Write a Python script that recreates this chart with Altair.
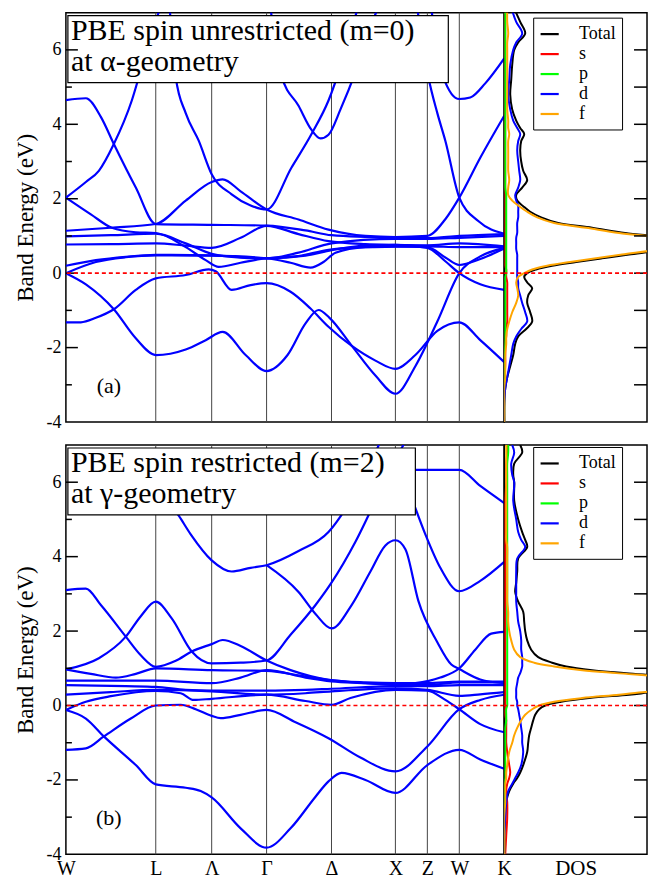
import altair as alt
import pandas as pd

FONT = "Liberation Serif"

# ---------------- high-symmetry path ----------------
kpt_pos = [0, 90, 146, 201, 266, 330, 362, 394, 439]
kpt_lab = ["W", "L", "Λ", "Γ", "Δ", "X", "Z", "W", "K"]

# ---------------- panel (a) bands: (k, E) ----------------
a1 = [(0,0.0),(20,-0.3),(48,-0.97),(70,-1.75),(90,-2.2),(120,-2.05),(140,-1.8),(157,-1.58),(180,-2.2),(201,-2.63),(222,-2.2),(240,-1.35),(253,-0.99),(264,-1.2),(286,-1.94),(310,-2.75),(330,-3.24),(350,-2.5),(372,-1.3),(394,0.0),(415,0.45),(439,0.68)]
a2 = [(0,-1.32),(15,-1.32),(30,-1.2),(48,-0.97),(70,-0.45),(90,-0.14),(120,-0.05),(143,0.1),(150,0.05),(166,-0.45),(185,-0.32),(201,-0.27),(225,-0.5),(245,-0.95),(263,-1.44),(286,-1.95),(310,-2.35),(330,-2.57),(350,-2.2),(372,-1.55),(394,-1.32),(415,-1.8),(439,-2.39)]
a3 = [(0,0.0),(30,0.3),(60,0.43),(90,0.48),(146,0.47),(201,0.40),(225,0.28),(245,0.15),(258,0.3),(270,0.55),(300,0.70),(330,0.72),(362,0.70),(380,0.42),(394,0.22),(415,0.38),(439,0.66)]
a4 = [(0,0.20),(30,0.35),(60,0.44),(90,0.49),(146,0.48),(201,0.40),(240,0.47),(266,0.62),(300,0.74),(330,0.76),(362,0.68),(380,0.32),(394,0.0),(415,-0.3),(439,-0.45)]
a5 = [(0,1.14),(45,1.22),(90,1.32),(120,1.95),(146,2.45),(157,2.52),(175,2.2),(201,1.71),(233,1.44),(263,1.17),(300,1.0),(330,0.97),(362,1.0),(380,1.45),(394,2.03),(415,3.1),(439,4.23)]
a6 = [(0,4.65),(20,4.7),(35,4.2),(48,3.47),(70,2.3),(90,1.32),(146,1.30),(201,1.28),(240,1.15),(266,1.02),(330,0.95),(362,0.94),(394,1.0),(439,1.05)]
a7 = [(0,2.03),(25,1.58),(46,1.22),(70,1.1),(90,1.08),(120,0.7),(140,0.35),(153,0.17),(175,0.28),(201,0.40),(230,0.45),(263,0.63),(300,0.70),(330,0.71),(362,0.72),(394,0.70),(439,0.70)]
a8 = [(104,7.1),(110,5.27),(120,4.3),(133,3.56),(146,2.66),(166,2.12),(185,1.82),(201,1.71),(226,2.84),(246,3.74),(263,4.64),(278,5.8),(292,7.1)]
a9 = [(205,7.1),(216,5.3),(233,4.5),(246,3.85),(255,3.62),(263,3.72),(275,4.4),(290,5.4),(305,6.6),(312,7.1)]
a10 = [(366,7.1),(372,6.0),(378,5.27),(394,4.68),(405,4.72),(420,5.1),(439,5.77)]
a11 = [(352,7.1),(363,5.27),(372,4.3),(380,3.56),(394,2.03),(413,1.4),(439,1.06)]
a12 = [(0,2.03),(20,2.45),(33,2.75),(48,3.47),(66,4.64),(76,5.54),(88,6.6),(94,7.1)]
a13 = [(0,0.77),(45,0.78),(90,0.80),(120,0.74),(146,0.68),(175,0.95),(201,1.27),(233,1.05),(263,0.86),(300,0.78),(330,0.76),(362,0.75),(394,0.8),(439,0.72)]
a14 = [(0,0.99),(45,1.02),(90,1.06),(120,0.8),(146,0.52),(175,0.42),(201,0.40),(233,0.55),(266,0.8),(330,0.92),(362,0.92),(394,0.95),(439,1.0)]
bands_a = [a1, a2, a3, a4, a5, a6, a7, a8, a9, a10, a11, a12, a13, a14]

# ---------------- panel (b) bands ----------------
b1 = [(0,-0.12),(20,-0.35),(38,-0.83),(70,-1.6),(90,-2.12),(120,-2.21),(135,-2.3),(146,-2.47),(175,-3.3),(201,-3.82),(225,-3.3),(250,-2.45),(263,-2.04),(276,-1.81),(300,-2.0),(330,-2.35),(362,-1.6),(394,-1.19),(415,-1.45),(439,-1.7)]
b2 = [(0,-1.19),(20,-1.15),(38,-0.83),(65,-0.35),(90,0.0),(115,0.02),(130,-0.1),(146,-0.28),(155,-0.34),(175,-0.25),(201,-0.12),(230,-0.45),(263,-0.88),(295,-1.4),(330,-1.77),(362,-1.1),(394,-0.1),(415,0.15),(439,0.29)]
b3 = [(0,-0.12),(20,0.1),(45,0.25),(90,0.39),(115,0.33),(128,0.15),(146,0.18),(201,0.29),(240,0.12),(266,0.02),(285,0.2),(330,0.42),(362,0.4),(380,0.15),(394,-0.1),(415,-0.5),(439,-0.72)]
b4 = [(0,0.29),(45,0.36),(90,0.42),(146,0.38),(201,0.29),(240,0.33),(266,0.38),(330,0.46),(362,0.42),(394,0.26),(415,0.3),(439,0.36)]
b5 = [(0,0.67),(60,0.67),(90,0.67),(146,0.60),(175,0.75),(201,0.95),(240,0.75),(266,0.65),(300,0.6),(330,0.55),(362,0.55),(394,0.62),(439,0.62)]
b6 = [(0,0.55),(60,0.52),(90,0.50),(120,0.42),(146,0.40),(201,0.40),(240,0.42),(266,0.45),(330,0.52),(362,0.52),(394,0.55),(439,0.55)]
b7 = [(0,0.97),(25,0.85),(50,0.75),(70,0.85),(90,1.0),(146,0.95),(201,0.93),(240,0.78),(266,0.68),(300,0.6),(330,0.57),(350,0.6),(375,0.75),(394,1.0),(410,1.5),(426,1.93),(439,1.98)]
b8 = [(0,0.97),(33,1.27),(60,1.85),(75,2.4),(90,2.79),(106,2.34),(126,1.45),(146,1.13),(175,1.15),(201,1.21),(225,1.9),(250,2.7),(266,3.3),(290,4.4),(310,5.5),(330,6.6),(340,7.1)]
b9 = [(0,3.1),(20,3.14),(35,2.7),(60,1.85),(75,1.35),(90,1.04),(110,1.2),(126,1.45),(146,1.65),(157,1.76),(175,1.6),(201,1.21),(225,0.95),(263,0.69),(300,0.62),(330,0.6),(362,0.6),(394,0.64),(439,0.64)]
b10 = [(105,5.4),(113,5.1),(125,4.6),(146,3.9),(166,3.6),(185,3.7),(201,3.77),(233,4.15),(263,4.66),(285,5.5),(305,6.5),(315,7.1)]
b11 = [(201,3.77),(233,3.05),(250,2.46),(266,2.07),(286,2.69),(305,3.6),(320,4.3),(330,4.44),(340,4.2),(353,2.81),(372,1.7),(386,1.1),(394,0.98),(415,0.7),(439,0.6)]
b12 = [(346,5.6),(360,4.6),(375,3.7),(394,3.07),(415,3.35),(439,3.86)]
b13 = [(350,6.33),(394,6.33),(415,5.9),(439,5.44)]
bands_b = [b1, b2, b3, b4, b5, b6, b7, b8, b9, b10, b11, b12, b13]

# ---------------- DOS, panel (a) ----------------
dosA_E = [7.05, 6.75, 6.44, 6.2, 6.0, 5.6, 5.2, 4.8, 4.4, 4.1, 3.9, 3.74, 3.55, 3.3, 3.0, 2.75, 2.5, 2.3, 2.1, 1.95,
          1.8, 1.65, 1.5, 1.35, 1.22, 1.08, 0.95, 0.8, 0.65, 0.5, 0.4, 0.3, 0.2, 0.1, 0.0, -0.1, -0.25, -0.4, -0.6, -0.8,
          -1.05, -1.3, -1.5, -1.7, -1.9, -2.2, -2.5, -2.8, -3.1, -3.5, -4.0]
dosA_total = [11,16,21,14,10, 8,7,6,8,12, 16,20,17,16,17, 19,23,18,12,13, 19,26,37,54,88, 121,165,190,165,125,
              98,72,48,32,23, 20,23,28,24,23, 26,28,22,14,11, 9,6,3,1,0, 0]
dosA_s = [1,1,1,1,1, 1,1,1,1,1, 1,1,1,1,1, 1,1,1,1,1, 1,1,1,1,1, 1,1,1,1,1, 1,1,1,2,2, 2,3,3,3,3, 3,3,2,2,1, 1,1,0,0,0, 0]
dosA_p = [1,1,1,1,1, 1,1,1,1,1, 1,1,1,1,1, 1,1,1,2,2, 2,2,2,2,2, 2,2,2,2,2, 2,2,2,2,2, 1,1,1,1,1, 1,1,1,1,1, 0,0,0,0,0, 0]
dosA_d = [8,12,18,12,9, 6,5,4,6,9, 13,16,14,13,14, 15,16,14,11,12, 14,14,14,13,13, 13,12,12,12,13,
          13,13,13,13,13, 13,14,14,16,18, 21,23,17,12,9, 7,5,3,1,0, 0]
dosA_f = [3,3,4,3,3, 3,3,3,3,4, 4,5,4,4,4, 4,5,4,4,8, 15,23,33,50,82, 115,158,183,158,118,
          92,66,43,28,20, 14,12,13,14,12, 8,5,3,2,2, 1,1,1,0,0, 0]

# ---------------- DOS, panel (b) ----------------
dosB_E = [7.0, 6.8, 6.5, 6.2, 6.0, 5.5, 5.0, 4.66, 4.45, 4.26, 3.95, 3.6, 3.3, 3.05, 2.79, 2.52, 2.25, 2.0, 1.75, 1.5,
          1.3, 1.15, 1.05, 0.95, 0.87, 0.75, 0.6, 0.45, 0.35, 0.29, 0.2, 0.1, 0.0, -0.1, -0.25, -0.4, -0.6, -0.8, -1.0,
          -1.25, -1.6, -1.8, -1.95, -2.1, -2.3, -2.6, -3.0, -3.5, -4.0]
dosB_total = [16,18,10,9,10, 10,14,18,21,23, 14,13,12,11,14, 19,20,21,23,27, 34,48,62,88,122,
              175,210,180,145,125, 85,57,41,35,31, 29,27,25,24,23, 19,16,13,9,5, 2,1,0,0]
dosB_s = [3,3,2,2,2, 1,1,1,1,1, 1,1,1,1,1, 1,1,1,1,1, 1,1,1,1,1, 1,1,1,1,1, 1,1,1,1,1, 2,2,2,2,3, 5,6,5,3,2, 3,3,2,1]
dosB_p = [4,4,3,3,3, 3,3,3,3,3, 3,3,3,3,3, 3,3,3,3,3, 3,3,3,3,3, 3,3,3,3,3, 3,3,3,2,2, 2,1,1,1,1, 1,1,1,0,0, 0,0,0,0]
dosB_d = [8,10,7,8,10, 9,12,14,17,21, 13,12,12,12,12, 13,14,16,17,17, 18,18,18,17,16,
          14,13,12,12,12, 12,13,13,14,15, 16,17,18,18,19, 17,14,11,8,4, 2,1,0,0]
dosB_f = [2,2,2,2,2, 2,2,2,2,3, 3,3,3,3,3, 4,4,5,7,10, 16,30,50,78,112,
          168,200,172,135,115, 78,50,35,28,21, 17,13,10,8,5, 3,2,2,1,1, 1,0,0,0]

orbitals = ["Total", "s", "p", "d", "f"]
orb_colors = ["#000000", "#ff0000", "#00ff00", "#0000ff", "#ffa500"]

BAND_W, DOS_W, H = 439, 143, 410
E_DOMAIN = [-4, 7]
FERMI_E = [0]


def y_enc(show_axis):
    axis = None
    if show_axis:
        axis = alt.Axis(values=[-4, -2, 0, 2, 4, 6], labelExpr="'' + datum.value", ticks=False,
                        domain=False, grid=False, labelFont=FONT, labelFontSize=18, labelPadding=5,
                        labelColor="black", title="Band Energy (eV)", titleFont=FONT, titleFontSize=23,
                        titleFontWeight="normal", titleColor="black", titlePadding=8)
    return alt.Y("E:Q", scale=alt.Scale(domain=E_DOMAIN, nice=False, zero=False), axis=axis)


def fermi_layer(y):
    return alt.Chart(pd.DataFrame({"E": FERMI_E})).mark_rule(
        stroke="#ff0000", strokeDash=[4, 3], strokeWidth=1.6).encode(y=y)


def band_chart(bands, line1, line2, box_right, letter, bottom):
    rows = []
    for i, band in enumerate(bands):
        for k, e in band:
            rows.append({"band": i, "k": k, "E": e})
    df = pd.DataFrame(rows)
    if bottom:
        expr = "''"
        for p, lab in zip(kpt_pos[::-1], kpt_lab[::-1]):
            expr = f"datum.value == {p} ? '{lab}' : ({expr})"
        x_axis = alt.Axis(values=kpt_pos, labelExpr=expr, ticks=False, domain=False, grid=False,
                          labelFont=FONT, labelFontSize=20, labelPadding=4, labelFlush=False,
                          labelOverlap=False, labelColor="black", title=None)
    else:
        x_axis = None
    x = alt.X("k:Q", scale=alt.Scale(domain=[0, BAND_W], nice=False, zero=False), axis=x_axis)
    y = y_enc(True)

    vlines = alt.Chart(pd.DataFrame({"k": kpt_pos[1:]})).mark_rule(
        color="#444444", strokeWidth=1).encode(x=x)
    lines = alt.Chart(df).mark_line(color="#0000ff", strokeWidth=2.2, interpolate="monotone",
                                    clip=True).encode(x=x, y=y, detail="band:N")
    one = pd.DataFrame({"t": [0]})
    box = alt.Chart(one).mark_rect(fill="white", stroke="black", strokeWidth=1.2).encode(
        x=alt.value(2), x2=alt.value(box_right), y=alt.value(3), y2=alt.value(70))
    t1 = alt.Chart(one).mark_text(align="left", baseline="alphabetic", font=FONT, fontSize=30,
                                  color="black").encode(x=alt.value(5), y=alt.value(27),
                                                        text=alt.value(line1))
    t2 = alt.Chart(one).mark_text(align="left", baseline="alphabetic", font=FONT, fontSize=30,
                                  color="black").encode(x=alt.value(5), y=alt.value(58),
                                                        text=alt.value(line2))
    let = alt.Chart(one).mark_text(align="center", baseline="middle", font=FONT, fontSize=22,
                                   color="black").encode(x=alt.value(43), y=alt.value(374),
                                                         text=alt.value(letter))
    major = alt.Chart(pd.DataFrame({"E": [-2, 0, 2, 4, 6]})).mark_rule(
        color="black", strokeWidth=1.5).encode(x=alt.value(0), x2=alt.value(12), y=y)
    minor = alt.Chart(pd.DataFrame({"E": [-3, -1, 1, 3, 5]})).mark_rule(
        color="black", strokeWidth=1.5).encode(x=alt.value(0), x2=alt.value(6), y=y)
    return alt.layer(vlines, lines, box, t1, t2, let, major, minor, fermi_layer(y)).properties(
        width=BAND_W, height=H)


def dos_chart(E, total, s, p, d, f, legend_y, bottom):
    rows = []
    for name, vals in zip(orbitals, [total, s, p, d, f]):
        for e, v in zip(E, vals):
            rows.append({"orb": name, "E": e, "dos": v})
    df = pd.DataFrame(rows)
    if bottom:
        x_axis = alt.Axis(title="DOS", labels=False, ticks=False, domain=False, grid=False,
                          titleFont=FONT, titleFontSize=21, titleFontWeight="normal",
                          titleColor="black", titlePadding=3)
    else:
        x_axis = None
    x = alt.X("dos:Q", scale=alt.Scale(domain=[0, DOS_W], nice=False, zero=False), axis=x_axis)
    y = y_enc(False)
    legend = alt.Legend(title=None, orient="none", legendX=29, legendY=legend_y,
                        symbolType="stroke", symbolSize=330, symbolStrokeWidth=2.2,
                        labelFont=FONT, labelFontSize=18, labelColor="black", labelOffset=19,
                        strokeColor="black", fillColor="white", padding=6, rowPadding=0)
    lines = alt.Chart(df).mark_line(strokeWidth=2, interpolate="catmull-rom", clip=True).encode(
        x=x, y=y,
        color=alt.Color("orb:N", scale=alt.Scale(domain=orbitals, range=orb_colors), legend=legend),
        order=alt.Order("E:Q"))
    rticks = alt.Chart(pd.DataFrame({"E": [-3, -2, -1, 0, 1, 2, 3, 4, 5, 6]})).mark_rule(
        color="black", strokeWidth=1.5).encode(x=alt.value(DOS_W - 13), x2=alt.value(DOS_W), y=y)
    return alt.layer(lines, rticks, fermi_layer(y)).properties(width=DOS_W, height=H)


bandA = band_chart(bands_a, "PBE spin unrestricted (m=0)", "at α-geometry", 383, "(a)", False)
bandB = band_chart(bands_b, "PBE spin restricted (m=2)", "at γ-geometry", 350, "(b)", True)
dosA = dos_chart(dosA_E, dosA_total, dosA_s, dosA_p, dosA_d, dosA_f, 5, False)
dosB = dos_chart(dosB_E, dosB_total, dosB_s, dosB_p, dosB_d, dosB_f, 2, True)

top = alt.hconcat(bandA, dosA, spacing=0, bounds="flush").resolve_scale(
    x="independent", y="independent", color="independent")
bot = alt.hconcat(bandB, dosB, spacing=0, bounds="flush").resolve_scale(
    x="independent", y="independent", color="independent")

chart = alt.vconcat(top, bot, spacing=11).resolve_scale(
    x="independent", y="independent", color="independent"
).resolve_legend(color="independent").properties(
    padding={"left": 14, "top": 10, "right": 5, "bottom": 0},
    background="white"
).configure_view(stroke="black", strokeWidth=1.5)

chart.save("out.html", embed_options={"renderer": "svg", "actions": False})
